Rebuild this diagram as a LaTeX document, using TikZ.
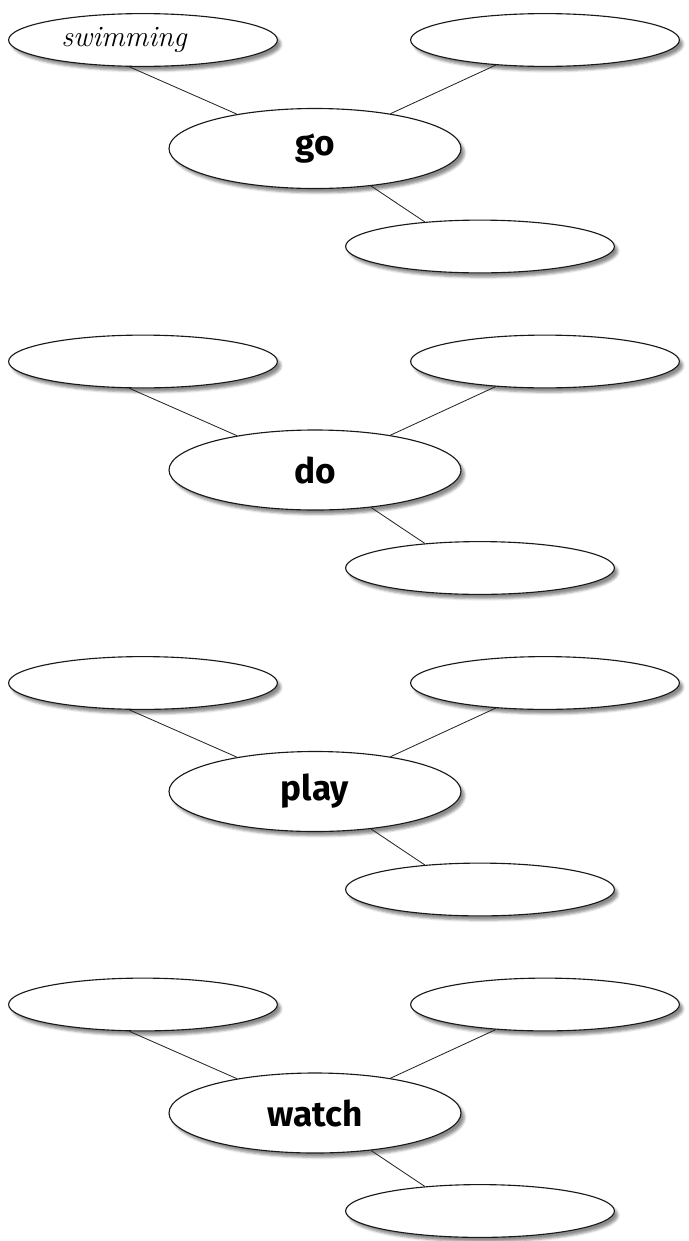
\documentclass[tikz,border=0pt]{standalone}
\usepackage{fontspec}
\newfontfamily\markerfont{Fira Sans}
\usetikzlibrary{positioning,shapes.geometric,shadows.blur}

\begin{document}
\begin{tikzpicture}[
    font=\markerfont,
    bubble/.style={
        ellipse,
        draw=black!90,
        fill=white,
        line width=0.8pt,
        inner sep=0pt,
        blur shadow={shadow xshift=2.5pt, shadow yshift=-3pt, shadow opacity=45}
    },
    verb/.style={bubble, minimum width=7.3cm, minimum height=2cm,
        font=\markerfont\bfseries\fontsize{25}{30}\selectfont},
    slot/.style={bubble, minimum width=6.72cm, minimum height=1.32cm,
        font=\rmfamily\itshape\fontsize{21}{24}\selectfont},
    link/.style={draw=black!85, line width=0.6pt},
    on grid
]
\useasboundingbox (0,0) rectangle (17.2,-31.025);

% ============================================================
% GO
% ============================================================
\node[verb] (go) at (7.875,-3.7125) {go};
\node[slot, above left=2.7125cm and 4.3cm of go] (go-a) {swimming\hspace*{0.95cm}};
\node[slot, above right=2.7125cm and 5.75cm of go] (go-b) {};
\node[slot, below right=2.45cm and 4.125cm of go] (go-c) {};

\draw[link] (go-a.243) -- (go);
\draw[link] (go-b.207) -- (go);
\draw[link] (go) -- (go-c.156);

% ============================================================
% DO
% ============================================================
\node[verb] (do) at (7.875,-11.75) {do};
\node[slot, above left=2.7125cm and 4.3cm of do] (do-a) {};
\node[slot, above right=2.7125cm and 5.75cm of do] (do-b) {};
\node[slot, below right=2.45cm and 4.125cm of do] (do-c) {};

\draw[link] (do-a.243) -- (do);
\draw[link] (do-b.207) -- (do);
\draw[link] (do) -- (do-c.156);

% ============================================================
% PLAY
% ============================================================
\node[verb] (play) at (7.875,-19.7875) {play};
\node[slot, above left=2.7125cm and 4.3cm of play] (play-a) {};
\node[slot, above right=2.7125cm and 5.75cm of play] (play-b) {};
\node[slot, below right=2.45cm and 4.125cm of play] (play-c) {};

\draw[link] (play-a.243) -- (play);
\draw[link] (play-b.207) -- (play);
\draw[link] (play) -- (play-c.156);

% ============================================================
% WATCH
% ============================================================
\node[verb] (watch) at (7.875,-27.825) {watch};
\node[slot, above left=2.7125cm and 4.3cm of watch] (watch-a) {};
\node[slot, above right=2.7125cm and 5.75cm of watch] (watch-b) {};
\node[slot, below right=2.45cm and 4.125cm of watch] (watch-c) {};

\draw[link] (watch-a.243) -- (watch);
\draw[link] (watch-b.207) -- (watch);
\draw[link] (watch) -- (watch-c.156);

\end{tikzpicture}
\end{document}
